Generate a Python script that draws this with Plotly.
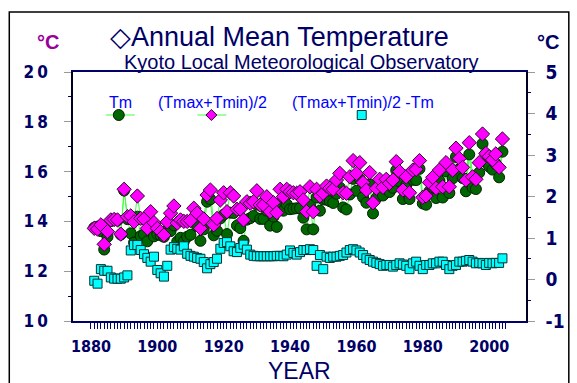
import plotly.graph_objects as go

years = list(range(1881, 2005))

tm = [13.75, 13.79, 13.61, 12.87, 13.38, 14.01, 14.06, 14.04, 13.47, 15.24,
      14.09, 13.52, 13.15, 14.19, 13.41, 13.49, 13.20, 13.96, 13.40, 13.49,
      13.44, 13.38, 13.65, 13.61, 13.84, 13.19, 13.34, 13.20, 13.38, 13.46,
      13.98, 13.81, 13.22, 13.68, 14.79, 14.89, 13.44, 13.62, 14.12, 14.27,
      13.49, 14.35, 14.34, 13.83, 13.73, 13.22, 14.07, 14.13, 14.22, 14.67,
      14.10, 14.10, 14.43, 13.83, 14.19, 13.78, 14.72, 14.43, 14.69, 14.49,
      14.51, 14.53, 14.53, 14.15, 13.68, 14.66, 13.68, 14.96, 14.43, 14.88,
      14.87, 14.81, 14.74, 15.11, 15.36, 14.56, 14.48, 15.08, 15.71, 15.23,
      15.71, 14.97, 14.75, 15.49, 14.32, 14.93, 15.32, 15.04, 15.34, 15.18,
      15.35, 16.05, 15.61, 14.90, 15.46, 14.90, 15.67, 15.66, 16.11, 14.72,
      14.67, 15.21, 15.38, 14.94, 15.63, 14.96, 16.01, 15.14, 15.73, 16.59,
      16.10, 15.74, 15.21, 16.69, 15.36, 15.30, 15.96, 17.12, 16.38, 16.20,
      16.08, 16.31, 15.77, 16.80]

tmid = [13.72, 13.69, 13.86, 13.08, 13.59, 14.06, 14.08, 14.06, 13.49, 15.29,
        14.19, 14.22, 13.98, 15.02, 14.12, 14.10, 13.72, 14.39, 13.95, 13.72,
        13.59, 13.45, 13.98, 14.33, 14.62, 13.93, 14.06, 14.00, 14.00, 14.03,
        14.53, 14.33, 13.72, 14.10, 15.06, 15.26, 13.86, 14.12, 14.86, 15.15,
        14.39, 15.15, 15.02, 14.49, 14.49, 14.06, 14.79, 14.73, 14.79, 15.23,
        14.66, 14.66, 14.99, 14.39, 14.75, 14.35, 15.29, 14.99, 15.29, 15.19,
        15.15, 15.13, 15.19, 14.86, 14.39, 15.39, 14.39, 15.29, 15.02, 15.13,
        15.42, 15.33, 15.29, 15.66, 15.93, 15.15, 15.13, 15.79, 16.44, 15.93,
        16.36, 15.56, 15.26, 15.96, 14.75, 15.33, 15.69, 15.37, 15.69, 15.53,
        15.66, 16.40, 16.00, 15.26, 15.79, 15.15, 16.06, 16.09, 16.44, 14.97,
        15.02, 15.56, 15.77, 15.33, 16.06, 15.39, 16.36, 15.39, 16.06, 16.94,
        16.53, 16.17, 15.66, 17.16, 15.79, 15.69, 16.36, 17.51, 16.73, 16.60,
        16.47, 16.71, 16.17, 17.31]

diff = [-0.03, -0.10, 0.25, 0.21, 0.21, 0.05, 0.02, 0.02, 0.02, 0.05,
        0.10, 0.70, 0.83, 0.83, 0.71, 0.61, 0.52, 0.43, 0.55, 0.23,
        0.15, 0.07, 0.33, 0.72, 0.78, 0.74, 0.72, 0.80, 0.62, 0.57,
        0.55, 0.52, 0.50, 0.42, 0.27, 0.37, 0.42, 0.50, 0.74, 0.88,
        0.90, 0.80, 0.68, 0.66, 0.76, 0.84, 0.72, 0.60, 0.57, 0.56,
        0.56, 0.56, 0.56, 0.56, 0.56, 0.57, 0.57, 0.56, 0.60, 0.70,
        0.64, 0.60, 0.66, 0.71, 0.71, 0.73, 0.71, 0.33, 0.59, 0.25,
        0.55, 0.52, 0.55, 0.55, 0.57, 0.59, 0.65, 0.71, 0.73, 0.70,
        0.65, 0.59, 0.51, 0.47, 0.43, 0.40, 0.37, 0.33, 0.35, 0.35,
        0.31, 0.35, 0.39, 0.36, 0.33, 0.25, 0.39, 0.43, 0.33, 0.25,
        0.35, 0.35, 0.39, 0.39, 0.43, 0.43, 0.35, 0.25, 0.33, 0.35,
        0.43, 0.43, 0.45, 0.47, 0.43, 0.39, 0.40, 0.39, 0.35, 0.40,
        0.39, 0.40, 0.40, 0.51]

x_ticks = list(range(1880, 2006))
x_labels = {1880: "1880", 1900: "1900", 1920: "1920", 1940: "1940",
            1960: "1960", 1980: "1980", 2000: "2000"}
yl_vals = [10, 12, 14, 16, 18, 20]
yl_text = ["1\u20090", "1\u20092", "1\u20094", "1\u20096", "1\u20098", "2\u20090"]
yr_vals = [-1, 0, 1, 2, 3, 4, 5]
yr_text = ["-1", "0", "1", "2", "3", "4", "5"]

W, H = 577, 383
L, R, T, B = 73, 528, 72, 321


def px(x):
    return (x - L) / (R - L)


def py(y):
    return (B - y) / (B - T)


NAVY = "#000066"
NARROW = "DejaVu Sans Condensed, Liberation Sans Narrow, sans-serif"
SANS = "Liberation Sans, Arial, sans-serif"
LINE_GREEN = "#40ff40"

fig = go.Figure()
fig.add_trace(go.Scatter(x=years, y=tm, mode="lines", line=dict(color=LINE_GREEN, width=1),
                         showlegend=False, hoverinfo="skip"))
fig.add_trace(go.Scatter(x=years, y=tmid, mode="lines", line=dict(color=LINE_GREEN, width=1),
                         showlegend=False, hoverinfo="skip"))
fig.add_trace(go.Scatter(x=years, y=tm, mode="markers", name="Tm",
                         marker=dict(symbol="circle", size=11, color="#006600",
                                     line=dict(color="#002200", width=1)),
                         showlegend=False))
fig.add_trace(go.Scatter(x=years, y=tmid, mode="markers", name="(Tmax+Tmin)/2",
                         marker=dict(symbol="diamond", size=11, color="#ff00ff",
                                     line=dict(color="#330033", width=1)),
                         showlegend=False))
fig.add_trace(go.Scatter(x=years, y=diff, mode="markers", name="(Tmax+Tmin)/2 -Tm", yaxis="y2",
                         marker=dict(symbol="square", size=9, color="#00ffff",
                                     line=dict(color="#003333", width=1)),
                         showlegend=False))

fig.update_layout(
    width=W, height=H, autosize=False,
    margin=dict(l=L, r=W - R, t=T, b=H - B, pad=0),
    paper_bgcolor="white", plot_bgcolor="white",
    xaxis=dict(range=[1874.6, 2011.1], tickmode="array", tickvals=x_ticks,
               ticktext=[x_labels.get(v, "") for v in x_ticks],
               ticks="outside", ticklen=6, tickwidth=1, tickcolor=NAVY,
               tickfont=dict(family=NARROW, size=16, color=NAVY, weight="bold"),
               showline=True, linecolor=NAVY, linewidth=1.5, mirror=True,
               showgrid=False, zeroline=False, ticklabelstandoff=4),
    yaxis=dict(range=[10, 20], tickmode="array", tickvals=yl_vals, ticktext=yl_text,
               ticks="outside", ticklen=7, tickwidth=1, tickcolor="#9a9a9a",
               minor=dict(tickmode="array", tickvals=[11, 13, 15, 17, 19], ticks="outside",
                          ticklen=3, tickcolor=NAVY, showgrid=False),
               tickfont=dict(family=NARROW, size=17, color=NAVY, weight="bold"),
               showline=True, linecolor="#000022", linewidth=1.5,
               showgrid=False, zeroline=False, ticklabelstandoff=13),
    yaxis2=dict(range=[-1, 5], overlaying="y", side="right", anchor="x",
                tickmode="array", tickvals=yr_vals, ticktext=yr_text,
                ticks="outside", ticklen=7, tickwidth=1, tickcolor="#9a9a9a",
                minor=dict(tickmode="array", tickvals=[-0.5, 0.5, 1.5, 2.5, 3.5, 4.5],
                           ticks="outside", ticklen=3, tickcolor=NAVY, showgrid=False),
                tickfont=dict(family=NARROW, size=19, color=NAVY, weight="bold"),
                showline=True, linecolor="#000022", linewidth=1.5,
                showgrid=False, zeroline=False, ticklabelstandoff=7),
)


def label(text, x, y, size, color, weight="normal", family=SANS):
    return dict(text=text, x=px(x), y=py(y), xref="paper", yref="paper", showarrow=False,
                xanchor="center", yanchor="middle",
                font=dict(family=family, size=size, color=color, weight=weight))


ann = [
    label("\u25c7Annual Mean Temperature", 280, 37, 27, NAVY),
    label("Kyoto Local Meteorological Observatory", 303, 62, 20, NAVY),
    label("\u00b0C", 48, 42, 20, "#990099", "bold"),
    label("\u00b0C", 550, 42, 20, NAVY, "bold"),
    label("YEAR", 300, 371, 23, NAVY),
]
for t, xc in [("Tm", 121), ("(Tmax+Tmin)/2", 213), ("(Tmax+Tmin)/2 -Tm", 364)]:
    ann.append(label(t, xc, 102, 16, "#0000ff"))
fig.update_layout(annotations=ann)

shapes = []
# outer frame
shapes.append(dict(type="rect", xref="paper", yref="paper", x0=px(9), x1=px(571), y0=py(395), y1=py(12),
                   line=dict(color="black", width=1.5), fillcolor="rgba(0,0,0,0)", layer="below"))
# legend keys
for x0, x1 in [(106, 135), (198, 227)]:
    shapes.append(dict(type="line", xref="paper", yref="paper", x0=px(x0), x1=px(x1), y0=py(115), y1=py(115),
                       line=dict(color=LINE_GREEN, width=1)))
cx, cy, r = 119, 115, 5.5
shapes.append(dict(type="circle", xref="paper", yref="paper", x0=px(cx - r), x1=px(cx + r),
                   y0=py(cy + r), y1=py(cy - r), fillcolor="#006600", line=dict(color="#002200", width=1)))
dx, dy, s = 212, 115, 5.5
path = "M {} {} L {} {} L {} {} L {} {} Z".format(px(dx), py(dy - s), px(dx + s), py(dy), px(dx), py(dy + s),
                                                   px(dx - s), py(dy))
shapes.append(dict(type="path", xref="paper", yref="paper", path=path, fillcolor="#ff00ff",
                   line=dict(color="#330033", width=1)))
sx, sy, h = 363, 115, 4.5
shapes.append(dict(type="rect", xref="paper", yref="paper", x0=px(sx - h), x1=px(sx + h),
                   y0=py(sy + h), y1=py(sy - h), fillcolor="#00ffff", line=dict(color="#003333", width=1)))
fig.update_layout(shapes=shapes)

fig.write_html("out.html")
